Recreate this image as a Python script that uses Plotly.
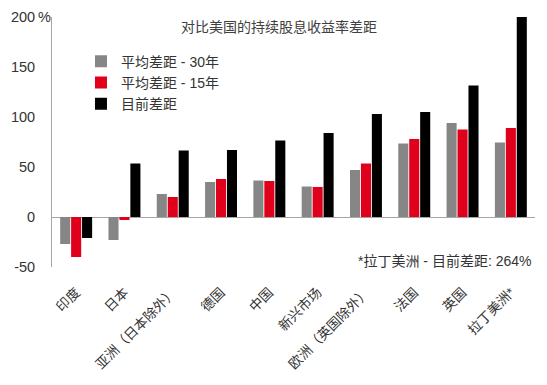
import plotly.graph_objects as go

categories = ["印度", "日本", "亚洲（日本除外）", "德国", "中国", "新兴市场",
              "欧洲（英国除外）", "法国", "英国", "拉丁美洲*"]
avg_30y = [-27, -23, 23, 35, 36.5, 30.5, 47, 73.5, 94, 74.5]
avg_15y = [-40, -3, 20, 38, 36, 30, 53.5, 78, 87.5, 89]
current = [-21, 53.5, 66.5, 67, 76.5, 84, 103, 105, 131.5, 264]

series_names = ["平均差距 - 30年", "平均差距 - 15年", "目前差距"]
colors = ["#868686", "#E0001B", "#000000"]

tick_vals = [-50, 0, 50, 100, 150, 200]
tick_text = ["-50", "0", "50", "100", "150", "200"]
y_unit = "%"

title_text = "对比美国的持续股息收益率差距"
note_text = "*拉丁美洲 - 目前差距: 264%"

FONT = "Liberation Sans, Arial, Noto Sans CJK SC, sans-serif"

fig = go.Figure()
for name, vals, col in zip(series_names, [avg_30y, avg_15y, current], colors):
    fig.add_trace(go.Bar(x=categories, y=vals, name=name,
                         marker=dict(color=col, line=dict(width=0))))

fig.update_layout(
    width=547, height=385,
    margin=dict(l=52, r=12, t=17, b=118, autoexpand=False),
    paper_bgcolor="white", plot_bgcolor="white",
    barmode="group", bargap=0.32, bargroupgap=0.08,
    font=dict(family=FONT, size=14, color="#333333"),
    showlegend=True,
    legend=dict(x=0.06, y=0.885, xanchor="left", yanchor="top",
                bgcolor="rgba(0,0,0,0)", font=dict(size=14, color="#333333"),
                itemwidth=30, tracegroupgap=0),
    xaxis=dict(showline=False, ticks="", tickangle=-45, automargin=False,
               ticklabelstandoff=14,
               tickfont=dict(size=13.5, color="#333333")),
    yaxis=dict(range=[-50, 200], tickvals=tick_vals, ticktext=tick_text,
               showgrid=False, showline=True, linecolor="#A6A6A6", linewidth=1,
               zeroline=True, zerolinecolor="#A6A6A6", zerolinewidth=1,
               ticks="", ticklabelstandoff=13, automargin=False,
               tickfont=dict(size=14.5, color="#333333")),
    annotations=[
        dict(text=title_text, xref="paper", yref="paper", x=0.47, y=0.96,
             xanchor="center", yanchor="middle", showarrow=False,
             font=dict(size=14, color="#404040")),
        dict(text=note_text, xref="paper", yref="y", x=0.995, y=-44,
             xanchor="right", yanchor="middle", showarrow=False,
             font=dict(size=14, color="#333333")),
        dict(text=y_unit, xref="paper", yref="y", x=0, y=tick_vals[-1],
             xanchor="right", yanchor="middle", showarrow=False,
             xshift=0, borderpad=0, font=dict(size=14.5, color="#333333")),
    ],
)

fig.write_html("out.html", config={"displayModeBar": False},
               post_script="document.body.style.margin='0';document.body.style.padding='0';")
